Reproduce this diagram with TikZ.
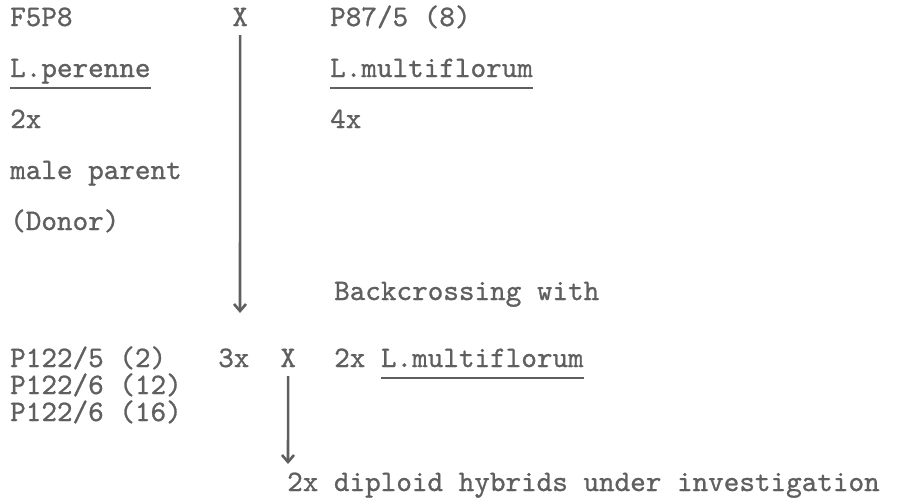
\documentclass[tikz,border=0pt]{standalone}
\usepackage{fontspec}
\usepackage{tikz}
\usetikzlibrary{arrows.meta}
\newfontfamily\typewr{lmmono10-regular.otf}[FakeBold=0.9]
\definecolor{ink}{RGB}{95,95,95}

\begin{document}
\begin{tikzpicture}[x=1pt,y=-1pt,
  txt/.style={anchor=base west,inner sep=0pt,text=ink,
    font=\fontsize{29.7}{30}\selectfont\typewr},
  arr/.style={draw=ink,line width=2.6pt,-{Straight Barb[length=7pt,width=12pt]}},
  uln/.style={draw=ink,line width=2.2pt}]
  \useasboundingbox (0,0) rectangle (898,501);
  % parents
  \node[txt] (f5p8)  at (10,26)  {F5P8};
  \node[txt] (lper)  at (10,77)  {L.perenne};
  \node[txt] (ploA)  at (10,128) {2x};
  \node[txt] (male)  at (10,179) {male parent};
  \node[txt] (donor) at (10,230) {(Donor)};
  \node[txt] (x1)    at (232.2,26) {X};
  \node[txt] (p87)   at (330,26)  {P87/5 (8)};
  \node[txt] (lmulA) at (330,77)  {L.multiflorum};
  \node[txt] (ploB)  at (330,128) {4x};
  % backcross
  \node[txt] (back)  at (334,300) {Backcrossing with};
  \node[txt] (p1)    at (10,367)  {P122/5 (2)};
  \node[txt] (p2)    at (10,394)  {P122/6 (12)};
  \node[txt] (p3)    at (10,421)  {P122/6 (16)};
  \node[txt] (tri)   at (218,367) {3x};
  \node[txt] (x2)    at (280.2,367) {X};
  \node[txt] (ploC)  at (334,367) {2x};
  \node[txt] (lmulB) at (380.8,367) {L.multiflorum};
  \node[txt] (hyb)   at (287,491) {2x diploid hybrids under investigation};
  \coordinate (t1) at (240,313);
  \coordinate (t2) at (288,464);
  \draw[arr,shorten <=9pt] (x1.south) -- (t1);
  \draw[arr,shorten <=9pt] (x2.south) -- (t2);
  \foreach \n in {lper,lmulA,lmulB}
    \draw[uln] ([yshift=-11pt]\n.base west) -- ([yshift=-11pt]\n.base east);
\end{tikzpicture}
\end{document}
